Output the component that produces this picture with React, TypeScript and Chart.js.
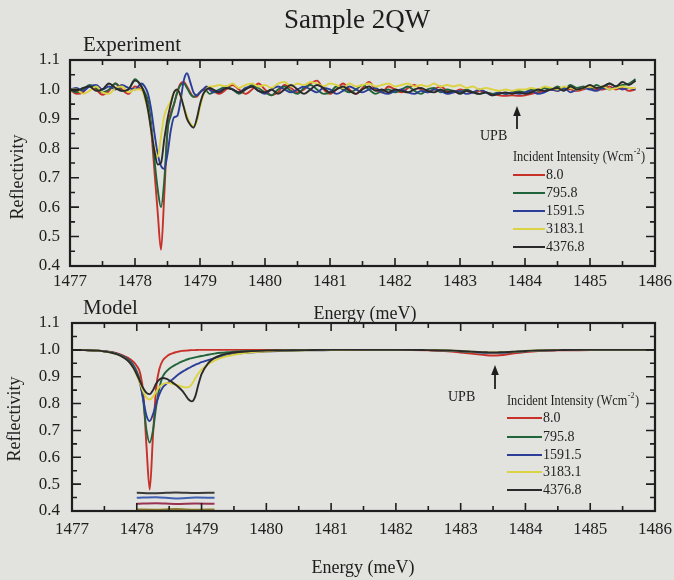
import React, { useEffect, useRef } from "react";
import { Chart, registerables } from "chart.js";

Chart.register(...registerables);

// ---------------- data ----------------
const SERIES_LABELS = ["8.0", "795.8", "1591.5", "3183.1", "4376.8"];
const SERIES_COLORS = ["#c8302a", "#22643a", "#2c3f98", "#dcd344", "#2a2a2a"];

const X_MIN = 1477;
const X_MAX = 1486;
const Y_MIN = 0.4;
const Y_MAX = 1.1;

// Experiment (top panel)
const expEnergy = [
  1477.0, 1477.1, 1477.2, 1477.3, 1477.4, 1477.5, 1477.6, 1477.7, 1477.8, 1477.9, 1478.0, 1478.1,
  1478.15, 1478.2, 1478.25, 1478.3, 1478.35, 1478.4, 1478.45, 1478.5, 1478.55, 1478.6, 1478.65,
  1478.7, 1478.75, 1478.8, 1478.85, 1478.9, 1478.95, 1479.0, 1479.05, 1479.1, 1479.15, 1479.2,
  1479.3, 1479.4, 1479.5, 1479.6, 1479.7, 1479.8, 1479.9,
  1480.0, 1480.1, 1480.2, 1480.3, 1480.4, 1480.5, 1480.6, 1480.7, 1480.8, 1480.9,
  1481.0, 1481.1, 1481.2, 1481.3, 1481.4, 1481.5, 1481.6, 1481.7, 1481.8, 1481.9,
  1482.0, 1482.1, 1482.2, 1482.3, 1482.4, 1482.5, 1482.6, 1482.7, 1482.8, 1482.9,
  1483.0, 1483.1, 1483.2, 1483.3, 1483.4, 1483.5, 1483.6, 1483.7, 1483.8, 1483.9,
  1484.0, 1484.1, 1484.2, 1484.3, 1484.4, 1484.5, 1484.6, 1484.7, 1484.8, 1484.9,
  1485.0, 1485.1, 1485.2, 1485.3, 1485.4, 1485.5, 1485.6, 1485.7,
];

const expR8 = [
  1.0, 0.985, 0.99, 1.012, 1.0, 0.982, 0.995, 1.02, 1.0, 0.985, 1.01, 1.0,
  0.985, 0.95, 0.86, 0.72, 0.58, 0.455, 0.64, 0.86, 0.92, 0.95, 0.99, 1.02, 1.025, 1.01, 0.99, 0.975, 0.975, 0.99, 1.0, 1.005, 1.0, 0.995,
  0.985, 1.0, 1.015, 1.0, 0.985, 1.0, 1.02,
  1.0, 0.98, 0.99, 1.015, 1.005, 0.99, 1.0, 1.02, 1.03, 1.0,
  0.985, 1.0, 1.02, 1.0, 0.985, 1.005, 1.025, 1.0, 0.99, 1.01,
  1.0, 0.99, 1.005, 1.015, 1.0, 0.99, 1.0, 1.01, 0.995, 0.99,
  1.0, 0.995, 0.99, 0.995, 0.99, 0.985, 0.98, 0.978, 0.98, 0.978,
  0.98, 0.985, 0.99, 0.995, 1.0, 0.995, 1.005, 1.0, 0.995, 1.0,
  1.01, 1.0, 1.0, 1.01, 1.0, 1.005, 0.995, 1.0,
];
const expR796 = [
  1.0, 0.99, 1.0, 1.015, 1.005, 0.99, 1.0, 1.02, 0.995, 1.0, 1.035, 1.01,
  0.99, 0.96, 0.88, 0.76, 0.66, 0.6, 0.69, 0.86, 0.91, 0.95, 0.99, 1.015, 1.02, 1.005, 0.985, 0.975, 0.98, 0.99, 1.0, 0.995, 0.985, 0.99,
  1.0, 1.01, 1.0, 0.985, 1.0, 1.015, 1.005,
  0.99, 0.98, 1.0, 1.01, 0.995, 0.985, 1.005, 1.015, 1.0, 0.985,
  0.99, 1.01, 1.0, 0.99, 1.0, 1.015, 1.0, 0.985, 0.995, 1.0,
  0.99, 1.0, 1.01, 0.995, 0.985, 1.0, 1.005, 0.99, 1.0, 0.995,
  0.99, 1.0, 0.99, 0.985, 0.99, 0.985, 0.99, 0.985, 0.99, 0.995,
  0.99, 1.0, 0.995, 1.005, 1.0, 1.01, 1.0, 1.015, 1.005, 1.01,
  1.0, 1.015, 1.005, 1.02, 1.01, 1.015, 1.02, 1.035,
];
const expR1592 = [
  1.0, 1.005, 0.995, 1.01, 1.015, 1.0, 1.01, 1.0, 1.015, 1.005, 1.0, 1.02,
  1.01, 0.985, 0.93, 0.85, 0.78, 0.74, 0.73, 0.78, 0.86, 0.905, 0.91, 0.96, 1.03, 1.055, 1.025, 0.99, 0.98, 0.99, 1.0, 1.01, 1.0, 0.99,
  0.995, 1.005, 1.0, 0.99, 1.005, 1.01, 0.995,
  0.985, 1.0, 1.01, 1.0, 0.99, 1.0, 1.01, 1.0, 0.99, 1.005,
  1.0, 0.985, 0.995, 1.01, 1.0, 0.99, 1.0, 1.005, 0.99, 0.985,
  0.995, 1.0, 0.99, 0.985, 0.995, 0.99, 1.0, 0.995, 0.985, 0.99,
  0.995, 0.985, 0.99, 1.0, 0.99, 0.98, 0.99, 0.985, 0.99, 0.985,
  0.99, 0.995, 0.985, 0.99, 1.0, 0.995, 1.005, 0.99, 1.0, 1.005,
  1.0, 0.995, 1.005, 1.0, 1.01, 1.0, 1.005, 1.0,
];
const expR3183 = [
  1.0, 1.0, 0.985, 0.995, 1.01, 0.99, 0.985, 1.005, 1.01, 0.99, 1.0, 1.0,
  0.97, 0.93, 0.86, 0.8, 0.77, 0.84, 0.91, 0.94, 0.96, 0.99, 1.0, 0.98, 0.94, 0.91, 0.885, 0.875, 0.89, 0.94, 0.98, 1.0, 1.01, 1.01,
  1.015, 1.01, 1.02, 1.005, 1.015, 1.02, 1.01,
  1.015, 1.005, 1.02, 1.025, 1.01, 1.02, 1.015, 1.025, 1.02, 1.01,
  1.02, 1.015, 1.005, 1.02, 1.01, 1.015, 1.02, 1.01, 1.015, 1.02,
  1.01, 1.015, 1.02, 1.01, 1.015, 1.01, 1.02, 1.01, 1.015, 1.01,
  1.015, 1.005, 1.01, 1.0, 1.005, 1.0, 0.995, 1.0, 0.995, 1.0,
  1.0, 1.005, 1.0, 1.01, 1.005, 1.0, 1.01, 1.005, 1.0, 1.005,
  1.01, 1.005, 1.01, 1.0, 1.005, 1.01, 1.005, 1.005,
];
const expR4377 = [
  1.0, 0.995, 1.005, 1.01, 0.995, 1.0, 1.02, 1.005, 0.995, 1.0, 1.03, 1.01,
  0.98, 0.93, 0.86, 0.79, 0.745, 0.75, 0.83, 0.9, 0.95, 0.99, 1.0, 0.98, 0.94, 0.9, 0.88, 0.87, 0.9, 0.95, 0.985, 1.0, 1.005, 1.0,
  0.99, 1.005, 1.0, 0.99, 1.0, 1.01, 0.995,
  0.99, 1.0, 0.985, 1.0, 1.015, 1.0, 0.985, 1.0, 1.015, 1.005,
  0.99, 1.0, 1.01, 0.995, 0.985, 1.0, 1.01, 0.995, 1.0, 0.99,
  1.0, 0.995, 0.99, 1.0, 1.005, 0.995, 0.99, 1.0, 0.99, 0.995,
  0.985, 0.995, 0.99, 0.985, 0.99, 0.98, 0.985, 0.99, 0.985, 0.99,
  0.985, 0.99, 1.0, 0.995, 1.0, 1.005, 0.995, 1.01, 1.0, 1.005,
  1.015, 1.005, 1.01, 1.02, 1.01, 1.025, 1.015, 1.03,
];

// Model (bottom panel)
const modelEnergy = [
  1477.0, 1477.2, 1477.4, 1477.5, 1477.6, 1477.7, 1477.8,
  1477.85, 1477.9, 1477.95, 1478.0, 1478.05, 1478.1, 1478.15,
  1478.2, 1478.25, 1478.3, 1478.35, 1478.4, 1478.45, 1478.5,
  1478.55, 1478.6, 1478.65, 1478.7, 1478.75, 1478.8, 1478.85,
  1478.9, 1478.95, 1479.0, 1479.1, 1479.2, 1479.3, 1479.4, 1479.5,
  1479.7, 1480.0, 1480.3, 1480.6, 1481.0, 1481.5, 1482.0, 1482.5,
  1482.8, 1483.0, 1483.2, 1483.4, 1483.5, 1483.6, 1483.8,
  1484.0, 1484.2, 1484.5, 1485.0, 1485.5, 1486.0,
];
const modR8 = [
  1.0, 0.999, 0.997, 0.995, 0.992, 0.987, 0.978,
  0.972, 0.965, 0.955, 0.94, 0.915, 0.84, 0.64,
  0.48, 0.68, 0.86, 0.93, 0.96, 0.973, 0.982,
  0.987, 0.991, 0.994, 0.996, 0.997, 0.998, 0.999,
  0.999, 1.0, 1.0, 1.0, 1.0, 1.0, 1.0, 1.0,
  1.0, 1.0, 1.0, 1.0, 1.0, 1.0, 1.0, 0.998,
  0.995, 0.99, 0.985, 0.98, 0.979, 0.98, 0.986,
  0.992, 0.996, 0.998, 0.999, 1.0, 1.0,
];
const modR796 = [
  1.0, 0.999, 0.997, 0.995, 0.991, 0.985, 0.975,
  0.968, 0.958, 0.943, 0.92, 0.885, 0.81, 0.7,
  0.655, 0.7, 0.79, 0.86, 0.9, 0.918, 0.93,
  0.938, 0.945, 0.951, 0.957, 0.962, 0.966, 0.969,
  0.972, 0.975, 0.977, 0.982, 0.986, 0.989, 0.991, 0.993,
  0.995, 0.997, 0.998, 0.999, 1.0, 1.0, 1.0, 0.999,
  0.997, 0.995, 0.992, 0.989, 0.988, 0.989, 0.992,
  0.995, 0.997, 0.999, 1.0, 1.0, 1.0,
];
const modR1592 = [
  1.0, 0.999, 0.997, 0.995, 0.991, 0.985, 0.974,
  0.966, 0.955, 0.938, 0.912, 0.875, 0.815, 0.755,
  0.735, 0.76, 0.8, 0.835, 0.86, 0.872, 0.88,
  0.89, 0.9, 0.91, 0.918, 0.925, 0.932, 0.938,
  0.944, 0.949, 0.954, 0.962, 0.969, 0.975, 0.98, 0.984,
  0.989, 0.994, 0.996, 0.998, 0.999, 1.0, 1.0, 0.999,
  0.997, 0.995, 0.992, 0.989, 0.988, 0.989, 0.992,
  0.995, 0.997, 0.999, 1.0, 1.0, 1.0,
];
const modR3183 = [
  1.0, 0.999, 0.997, 0.994, 0.99, 0.983, 0.971,
  0.962, 0.95, 0.932, 0.905, 0.875, 0.845, 0.822,
  0.815, 0.825, 0.845, 0.862, 0.872, 0.876, 0.876,
  0.874, 0.871, 0.867, 0.863, 0.86, 0.861, 0.872,
  0.893, 0.912, 0.926, 0.946, 0.96, 0.97, 0.977, 0.982,
  0.989, 0.994, 0.997, 0.998, 0.999, 1.0, 1.0, 0.999,
  0.998, 0.996, 0.993, 0.991, 0.99, 0.991, 0.993,
  0.996, 0.998, 0.999, 1.0, 1.0, 1.0,
];
const modR4377 = [
  1.0, 0.999, 0.997, 0.994, 0.99, 0.983, 0.971,
  0.962, 0.95, 0.932, 0.908, 0.882, 0.857, 0.84,
  0.835, 0.85, 0.875, 0.89, 0.895, 0.893, 0.887,
  0.879, 0.87, 0.86, 0.848, 0.832, 0.815, 0.808,
  0.825, 0.87, 0.91, 0.95, 0.97, 0.98, 0.986, 0.99,
  0.994, 0.997, 0.998, 0.999, 1.0, 1.0, 1.0, 0.999,
  0.998, 0.996, 0.993, 0.991, 0.99, 0.991, 0.993,
  0.996, 0.998, 0.999, 1.0, 1.0, 1.0,
];

// faint stray traces near the bottom of the model panel
const strayEnergy = [1478.0, 1478.3, 1478.6, 1478.9, 1479.2];
const strayBlack = [0.468, 0.466, 0.469, 0.467, 0.468];
const strayBlue = [0.449, 0.451, 0.447, 0.45, 0.449];
const strayRed = [0.427, 0.429, 0.426, 0.428, 0.427];
const strayOlive = [0.406, 0.405, 0.407, 0.405, 0.406];
const STRAY_COLORS = ["#3a3a3a", "#4060b4", "#9a3352", "#8d7c2c"];

// ---------------- drawing helpers ----------------
const INK = "#1e1e1e";
const BG = "#e2e2df";
const SERIF = '"Liberation Serif", "Times New Roman", serif';
const W = 674;
const H = 580;

function txt(
  ctx: CanvasRenderingContext2D,
  s: string,
  x: number,
  y: number,
  size: number,
  align: CanvasTextAlign = "left",
  rot = 0,
  sx = 1
) {
  ctx.save();
  ctx.font = `${size}px ${SERIF}`;
  ctx.fillStyle = INK;
  ctx.textAlign = align;
  ctx.textBaseline = "middle";
  ctx.translate(x, y);
  if (rot) ctx.rotate(rot);
  if (sx !== 1) ctx.scale(sx, 1);
  ctx.fillText(s, 0, 0);
  ctx.restore();
}

function drawLegend(ctx: CanvasRenderingContext2D, x0: number, titleY: number, rowYs: number[], lineLen: number) {
  ctx.save();
  ctx.translate(x0, titleY);
  ctx.scale(0.88, 1);
  ctx.fillStyle = INK;
  ctx.textBaseline = "middle";
  ctx.textAlign = "left";
  ctx.font = `14px ${SERIF}`;
  const a = "Incident Intensity (Wcm";
  ctx.fillText(a, 0, 0);
  let w = ctx.measureText(a).width;
  ctx.font = `9px ${SERIF}`;
  ctx.fillText("-2", w + 0.5, -5);
  w += ctx.measureText("-2").width + 1;
  ctx.font = `14px ${SERIF}`;
  ctx.fillText(")", w, 0);
  ctx.restore();
  rowYs.forEach((y, i) => {
    ctx.save();
    ctx.strokeStyle = SERIES_COLORS[i];
    ctx.lineWidth = 2;
    ctx.beginPath();
    ctx.moveTo(x0, y);
    ctx.lineTo(x0 + lineLen, y);
    ctx.stroke();
    ctx.restore();
    txt(ctx, SERIES_LABELS[i], x0 + lineLen + 1, y, 14, "left");
  });
}

function drawArrow(ctx: CanvasRenderingContext2D, x: number, yTip: number, yTail: number) {
  ctx.save();
  ctx.strokeStyle = INK;
  ctx.fillStyle = INK;
  ctx.lineWidth = 1.8;
  ctx.beginPath();
  ctx.moveTo(x, yTail);
  ctx.lineTo(x, yTip + 6);
  ctx.stroke();
  ctx.beginPath();
  ctx.moveTo(x, yTip);
  ctx.lineTo(x - 3.8, yTip + 10);
  ctx.lineTo(x + 3.8, yTip + 10);
  ctx.closePath();
  ctx.fill();
  ctx.restore();
}

function frameAndTicks(chart: any) {
  const { ctx, chartArea: a, scales } = chart;
  const xs = scales.x;
  const ys = scales.y;
  ctx.save();
  ctx.strokeStyle = INK;
  ctx.lineWidth = 1.6;
  ctx.beginPath();
  for (let i = 0; i <= (X_MAX - X_MIN) * 2; i++) {
    const px = xs.getPixelForValue(X_MIN + i * 0.5);
    const L = i % 2 === 0 ? 8 : 5;
    ctx.moveTo(px, a.bottom);
    ctx.lineTo(px, a.bottom - L);
    ctx.moveTo(px, a.top);
    ctx.lineTo(px, a.top + L);
  }
  for (let i = 0; i <= 14; i++) {
    const py = ys.getPixelForValue(Y_MIN + i * 0.05);
    const L = i % 2 === 0 ? 9 : 5;
    ctx.moveTo(a.left, py);
    ctx.lineTo(a.left + L, py);
    ctx.moveTo(a.right, py);
    ctx.lineTo(a.right - L, py);
  }
  ctx.stroke();
  ctx.lineWidth = 2.2;
  ctx.strokeRect(a.left, a.top, a.right - a.left, a.bottom - a.top);
  ctx.restore();
}

type Area = { left: number; top: number; right: number; bottom: number };

function makeConfig(
  datasets: any[],
  area: Area,
  labelPadX: number,
  labelPadY: number,
  decorate: (ctx: CanvasRenderingContext2D) => void
): any {
  const X_AXIS_H = 30;
  return {
    type: "line",
    data: { datasets },
    options: {
      responsive: false,
      maintainAspectRatio: false,
      devicePixelRatio: 1,
      animation: false,
      events: [],
      layout: {
        padding: {
          left: 0,
          top: area.top,
          right: W - area.right,
          bottom: H - area.bottom - X_AXIS_H,
        },
      },
      plugins: {
        legend: { display: false },
        tooltip: { enabled: false },
        title: { display: false },
      },
      elements: { point: { radius: 0 } },
      scales: {
        x: {
          type: "linear",
          min: X_MIN,
          max: X_MAX,
          grid: { display: false, drawTicks: false },
          border: { display: false },
          ticks: {
            stepSize: 1,
            padding: labelPadX,
            color: INK,
            font: { family: SERIF, size: 17 },
            maxRotation: 0,
            callback: (v: any) => String(Math.round(Number(v))),
          },
          afterFit: (s: any) => {
            s.height = X_AXIS_H;
            s.paddingLeft = 0;
            s.paddingRight = 0;
          },
        },
        y: {
          type: "linear",
          min: Y_MIN,
          max: Y_MAX,
          grid: { display: false, drawTicks: false },
          border: { display: false },
          ticks: {
            stepSize: 0.1,
            padding: labelPadY,
            color: INK,
            font: { family: SERIF, size: 17 },
            callback: (v: any) => Number(v).toFixed(1),
          },
          afterFit: (s: any) => {
            s.width = area.left;
            s.paddingTop = 0;
            s.paddingBottom = 0;
          },
        },
      },
    },
    plugins: [
      {
        id: "frameDecor",
        afterDatasetsDraw(chart: any) {
          frameAndTicks(chart);
          decorate(chart.ctx);
        },
      },
    ],
  };
}

function seriesSets(energy: number[], series: number[][], width: number) {
  return series.map((vals, i) => ({
    label: SERIES_LABELS[i],
    data: vals.map((y, k) => ({ x: energy[k], y })),
    borderColor: SERIES_COLORS[i],
    backgroundColor: SERIES_COLORS[i],
    borderWidth: width,
    pointRadius: 0,
    fill: false,
    cubicInterpolationMode: "monotone",
    order: series.length - i,
  }));
}

export default function App() {
  const topRef = useRef<HTMLCanvasElement>(null);
  const botRef = useRef<HTMLCanvasElement>(null);

  useEffect(() => {
    const expSets = seriesSets(expEnergy, [expR8, expR796, expR1592, expR3183, expR4377], 1.9);
    const top = new Chart(
      topRef.current as HTMLCanvasElement,
      makeConfig(expSets, { left: 70, top: 60, right: 655, bottom: 266 }, 5, 10, (ctx) => {
        txt(ctx, "Sample 2QW", 357, 21, 27, "center");
        txt(ctx, "Experiment", 83, 45, 21, "left");
        txt(ctx, "Reflectivity", 18, 177, 18, "center", -Math.PI / 2);
        txt(ctx, "Energy (meV)", 365, 314, 18, "center");
        txt(ctx, "UPB", 480, 136, 14, "left");
        drawArrow(ctx, 517, 106, 129);
        drawLegend(ctx, 513, 157, [175, 193, 211, 229, 247], 32);
      })
    );

    const modSets = seriesSets(modelEnergy, [modR8, modR796, modR1592, modR3183, modR4377], 1.9);
    const straySets = [strayBlack, strayBlue, strayRed, strayOlive].map((vals, i) => ({
      label: "stray" + i,
      data: vals.map((y, k) => ({ x: strayEnergy[k], y })),
      borderColor: STRAY_COLORS[i],
      borderWidth: 2,
      pointRadius: 0,
      fill: false,
      tension: 0.3,
      order: 10,
    }));
    const bot = new Chart(
      botRef.current as HTMLCanvasElement,
      makeConfig([...modSets, ...straySets], { left: 72, top: 323, right: 655, bottom: 511 }, 8, 12, (ctx) => {
        txt(ctx, "Model", 83, 308, 21, "left");
        txt(ctx, "Reflectivity", 15, 419, 18, "center", -Math.PI / 2);
        txt(ctx, "Energy (meV)", 363, 568, 18, "center");
        txt(ctx, "UPB", 448, 397, 14, "left");
        drawArrow(ctx, 495, 365, 389);
        drawLegend(ctx, 507, 401, [418, 437, 455, 472, 490], 35);
      })
    );

    return () => {
      top.destroy();
      bot.destroy();
    };
  }, []);

  return (
    <div
      style={{
        position: "fixed",
        left: 0,
        top: 0,
        width: W,
        height: H,
        background: BG,
        overflow: "hidden",
      }}
    >
      <canvas ref={topRef} width={W} height={H} style={{ position: "absolute", left: 0, top: 0 }} />
      <canvas ref={botRef} width={W} height={H} style={{ position: "absolute", left: 0, top: 0 }} />
    </div>
  );
}
